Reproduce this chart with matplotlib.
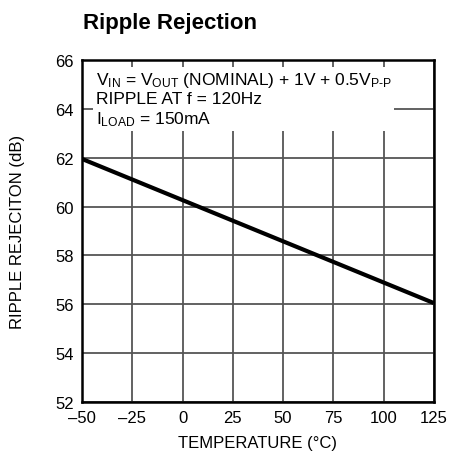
import matplotlib
matplotlib.use("Agg")
import matplotlib.pyplot as plt
import matplotlib.font_manager as fm

names = {f.name for f in fm.fontManager.ttflist}
narrow = 'Liberation Sans Narrow' if 'Liberation Sans Narrow' in names else 'Liberation Sans'
plt.rcParams['font.family'] = [narrow, 'DejaVu Sans']
plt.rcParams['mathtext.fontset'] = 'custom'
plt.rcParams['mathtext.rm'] = narrow
plt.rcParams['mathtext.it'] = narrow
plt.rcParams['axes.unicode_minus'] = True

temperature = [-50, 125]
rejection = [61.95, 56.05]
xticks = [-50, -25, 0, 25, 50, 75, 100, 125]
yticks = [52, 54, 56, 58, 60, 62, 64, 66]

fig = plt.figure(figsize=(4.61, 4.64), dpi=100)
ax = fig.add_axes([0.178, 0.1315, 0.763, 0.737])
ax.set_xlim(-50, 125)
ax.set_ylim(52, 66)
ax.set_xticks(xticks)
ax.set_yticks(yticks)
ax.set_xticklabels([str(t).replace('-', '\u2013') for t in xticks])
ax.grid(True, color='#555555', linewidth=1.3)
ax.set_axisbelow(True)
ax.tick_params(length=0, labelsize=12, pad=6, colors='black')
for s in ax.spines.values():
    s.set_linewidth(1.8)
    s.set_color('black')
    s.set_zorder(5)

ax.plot(temperature, rejection, color='black', linewidth=3, solid_capstyle='butt', zorder=4)

ax.set_xlabel('TEMPERATURE (°C)', fontsize=12, labelpad=7)
ax.set_ylabel('RIPPLE REJECITON (dB)', fontsize=12, labelpad=22)

txt = ('V$_{\\mathrm{IN}}$ = V$_{\\mathrm{OUT}}$ (NOMINAL) + 1V + 0.5V$_{\\mathrm{P\u2010P}}$\n'
       'RIPPLE AT f = 120Hz\n'
       'I$_{\\mathrm{LOAD}}$ = 150mA')
ax.text(-43.3, 65.6, txt, fontsize=12.5, va='top', ha='left', linespacing=1.22,
        bbox=dict(facecolor='white', edgecolor='none', pad=2), zorder=3)

fig.text(0.18, 0.95, 'Ripple Rejection', fontsize=16, fontweight='bold', va='center', ha='left')

fig.savefig('out.png', dpi=100)
